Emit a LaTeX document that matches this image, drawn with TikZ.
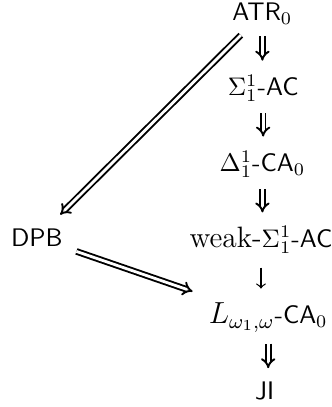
\documentclass[tikz,border=0pt]{standalone}
\usetikzlibrary{arrows}
\begin{document}
\begin{tikzpicture}[>=to,
    impl/.style={double,line width=0.75pt,double distance=1.1pt,-implies,shorten >=2pt,shorten <=1pt},
    weakimpl/.style={->,line width=0.5pt,shorten >=2pt,shorten <=2pt}]
    \useasboundingbox (0,0) rectangle (4.59,5.63);
    \node (atr) at (3.63,5.44) {$\mathsf{ATR}_0$};
    \node (sig) at (3.64,4.41) {$\Sigma^1_1$-$\mathsf{AC}$};
    \node (del) at (3.63,3.36) {$\Delta^1_1$-$\mathsf{CA}_0$};
    \node (weak) at (3.61,2.31) {{\fontsize{11.6}{13}\selectfont weak-}$\Sigma^1_1$-$\mathsf{AC}$};
    \node (lca) at (3.71,1.24) {\large$L_{\omega_1,\omega}$\normalsize-$\mathsf{CA}_0$};
    \node (ji) at (3.66,0.22) {$\mathsf{JI}$};
    \node (dpb) at (0.51,2.34) {$\mathsf{DPB}$};
    \draw[impl] (atr) -- (atr |- sig.north);
    \draw[impl] (sig) -- (sig |- del.north);
    \draw[impl] (del) -- (del |- weak.north);
    \draw[weakimpl] (weak) -- (weak |- lca.north);
    \draw[impl] (lca) -- (lca |- ji.north);
    \draw[impl,shorten >=3pt] (atr) -- (dpb);
    \draw[impl,shorten <=2pt,shorten >=3pt] (dpb) -- (lca);
  \end{tikzpicture}
\end{document}
